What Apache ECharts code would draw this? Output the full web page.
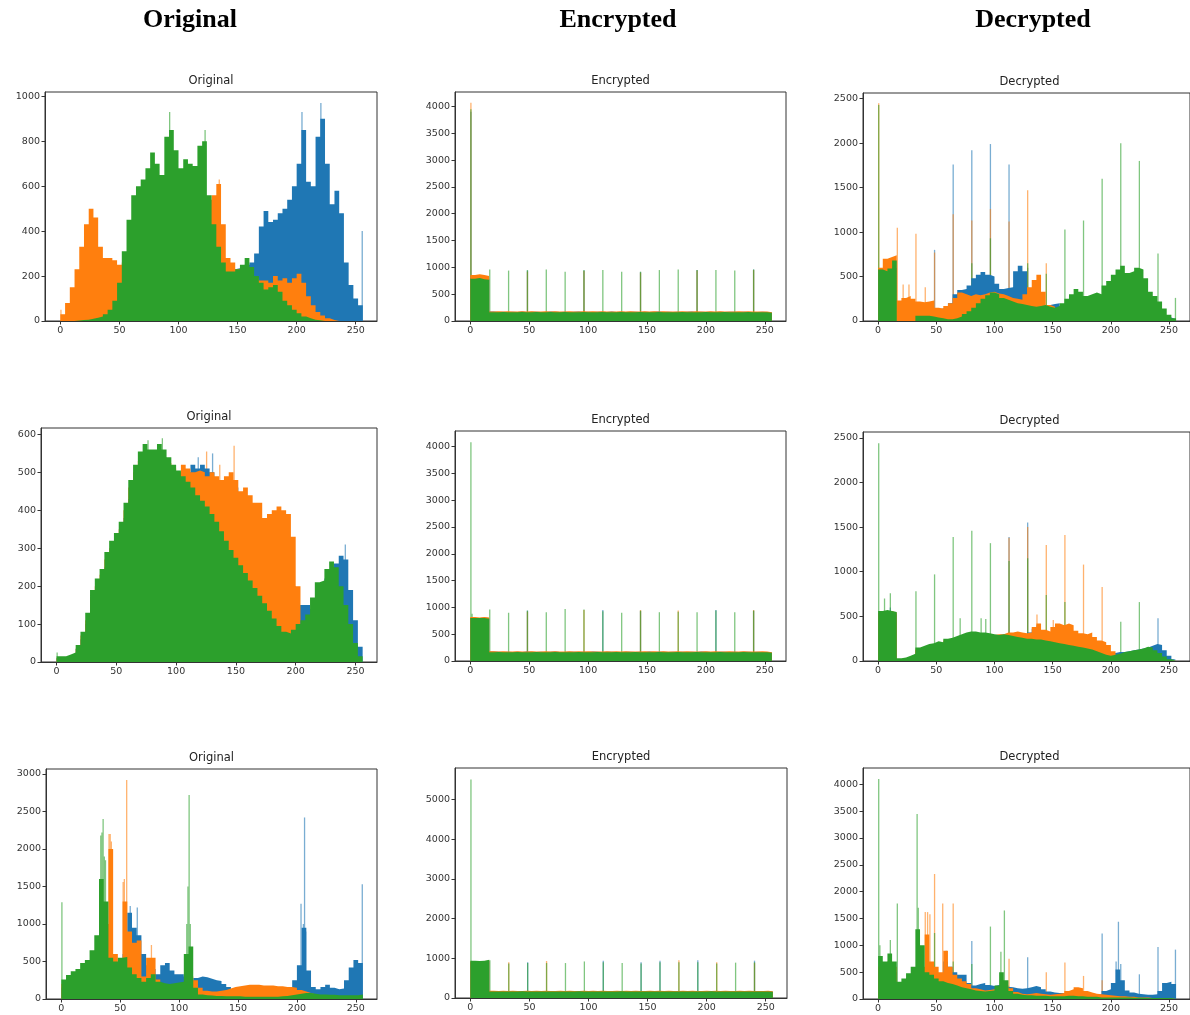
<!DOCTYPE html>
<html lang="en">
<head>
<meta charset="UTF-8">
<title>Histograms</title>
<script src="https://cdn.jsdelivr.net/npm/echarts@6/dist/echarts.min.js"></script>
<style>html,body{margin:0;padding:0;background:#fff}</style>
</head>
<body>
<div id="myChart" style="width:1190px;height:1015px;"></div>
<script>
// tick labels
var xTicks = [0, 50, 100, 150, 200, 250];
var yTicksO1 = [0, 200, 400, 600, 800, 1000];
var yTicksO2 = [0, 100, 200, 300, 400, 500, 600];
var yTicksO3 = [0, 500, 1000, 1500, 2000, 2500, 3000];
var yTicksE12 = [0, 500, 1000, 1500, 2000, 2500, 3000, 3500, 4000];
var yTicksE3 = [0, 1000, 2000, 3000, 4000, 5000];
var yTicksD12 = [0, 500, 1000, 1500, 2000, 2500];
var yTicksD3 = [0, 500, 1000, 1500, 2000, 2500, 3000, 3500, 4000];

// histogram bodies: 64 values each, 4 grey levels per value
// spikes: [bin, count]

// ---- row 1 ----
var o1B = [0,0,0,0,2,5,10,15,20,25,
  30,35,40,45,50,55,60,70,80,90,
  100,110,120,130,140,150,160,170,180,190,
  200,205,210,215,220,225,230,235,240,250,
  260,300,420,490,440,450,480,500,540,600,
  700,850,620,600,820,900,700,520,580,480,
  260,160,100,70];
var o1O = [30,80,150,230,330,430,500,460,330,280,
  280,270,250,260,300,320,340,360,380,400,
  420,440,450,460,470,480,490,500,510,520,
  530,540,560,610,430,280,260,230,220,210,
  200,190,180,180,170,200,180,190,170,190,
  210,170,110,70,40,25,12,5,0,0,
  0,0,0,0];
var o1G = [0,0,0,2,4,6,10,15,20,30,
  50,90,170,310,450,560,600,630,680,750,
  700,650,820,850,760,680,720,700,690,780,
  800,560,430,330,260,220,220,230,250,280,
  240,200,170,140,150,160,130,90,70,50,
  35,20,12,6,3,0,0,0,0,0,
  0,0,0,0];
var o1Bs = [[204,930],[220,970],[255,400]];
var o1Os = [[0,50],[134,630]];
var o1Gs = [[92,930],[122,850]];

var e1B = [800,810,800,790,
  175,170,172,168,174,170,176,169,171,173,
  170,168,175,172,170,174,169,171,176,170,
  172,168,173,171,170,175,169,172,170,174,
  171,168,173,170,172,176,169,171,170,173,
  168,172,175,170,171,169,174,170,172,168,
  171,173,170,172,169,170,168,172,170,160];
var e1O = [860,870,860,840,
  178,180,176,182,175,179,181,177,180,176,
  179,183,177,180,178,176,182,179,177,181,
  176,180,178,183,177,179,176,181,178,180,
  177,179,182,176,180,178,181,177,179,176,
  180,178,177,182,179,176,180,178,181,177,
  179,176,180,178,182,177,179,176,178,165];
var e1G = [790,800,780,770,
  165,163,166,162,165,164,167,163,165,166,
  164,162,166,165,163,166,164,162,165,167,
  163,165,164,166,162,165,163,166,164,165,
  162,166,164,163,165,167,163,165,164,162,
  166,164,163,165,162,166,164,165,163,166,
  164,162,165,163,166,164,162,165,163,155];
var e1Bs = [[0,3900],[48,940],[96,940],[144,910],[192,950],[240,960]];
var e1Os = [[0,4070],[48,920],[96,930],[144,900],[192,940],[240,950]];
var e1Gs = [[0,3950],[16,960],[32,940],[48,950],[64,960],[80,920],[96,950],[112,950],
  [128,920],[144,920],[160,950],[176,960],[192,950],[208,950],[224,940],[240,960]];

var d1B = [500,550,580,600,
  150,160,170,160,150,140,150,160,130,140,160,200,
  300,350,360,400,480,520,550,520,500,420,360,370,380,560,620,560,300,250,200,180,180,190,200,
  160,160,150,150,150,160,150,150,160,150,150,140,140,130,130,120,120,110,100,100,90,80,60,40,20];
var d1O = [600,700,720,740,
  230,260,280,250,220,210,220,230,150,140,170,200,260,320,300,280,300,290,300,320,
  330,310,300,280,260,250,240,300,380,460,520,330,180,160,120,100,
  90,80,80,70,70,60,60,60,50,50,50,40,40,40,30,30,30,20,20,20,10,10,10,0];
var d1G = [580,560,590,680,
  0,0,0,0,
  60,60,60,50,40,30,20,20,
  30,50,80,110,150,200,250,290,320,300,260,240,220,200,190,180,170,160,170,180,160,150,170,200,250,
  300,360,330,280,300,320,300,400,450,520,580,620,540,560,600,580,480,330,280,220,140,70,30];
var d1Bs = [[48,800],[64,1760],[80,1920],[96,1990],[112,1760],[128,600]];
var d1Os = [[0,2450],[16,1050],[21,410],[26,410],[32,980],[40,380],[48,770],[64,1200],
  [80,1130],[96,1260],[112,1120],[128,1470],[144,650]];
var d1Gs = [[0,2430],[80,650],[96,930],[128,650],[144,530],[160,1030],[176,1130],[192,1600],
  [208,2000],[224,1800],[240,760],[255,260]];

// ---- row 2 ----
var o2B = [10,12,15,20,35,60,100,150,180,210,250,280,300,330,380,430,470,500,520,510,510,520,510,500,490,480,480,
  500,520,510,520,510,500,470,460,470,480,460,430,420,
  400,380,360,340,330,320,300,280,250,200,
  150,150,150,140,150,180,220,240,260,280,270,190,110,40];
var o2O = [10,12,15,20,35,70,110,170,200,230,270,300,320,350,400,460,500,530,550,540,540,550,540,525,510,500,
  520,510,500,505,500,490,500,490,480,490,500,480,450,460,440,420,420,380,390,400,410,400,390,330,200,100,
  70,60,50,40,30,25,20,15,10,5,0,0];
var o2G = [15,15,20,25,45,80,130,190,220,245,
  290,320,340,370,420,480,520,555,575,560,
  560,575,560,540,520,505,490,475,460,440,
  425,410,390,370,345,320,295,275,255,235,
  215,195,175,155,135,115,95,80,75,85,
  100,110,125,170,210,215,245,265,250,200,
  150,100,50,15];
var o2Bs = [[118,540],[130,550],[241,310]];
var o2Os = [[125,555],[136,520],[148,570]];
var o2Gs = [[0,25],[76,585],[88,590]];

var e2B = [800,800,810,800,
  176,171,169,174,170,172,168,175,171,170,
  173,169,172,176,170,168,174,171,169,173,
  170,175,172,168,171,174,170,169,173,171,
  168,172,170,175,169,171,174,170,172,168,
  173,170,171,169,175,172,170,168,174,171,
  170,172,169,173,171,168,172,170,169,160];
var e2O = [820,810,820,810,
  180,177,182,176,179,181,178,176,183,179,
  177,180,176,182,178,179,181,177,180,176,
  182,178,179,177,181,176,180,178,183,177,
  179,176,181,178,180,177,182,179,176,180,
  178,181,177,179,176,182,178,180,177,179,
  181,176,178,180,177,179,176,181,178,165];
var e2G = [800,800,800,790,
  164,166,163,165,162,166,164,165,163,167,
  165,162,164,166,163,165,164,162,166,165,
  163,164,166,162,165,163,167,164,162,165,
  166,163,165,164,162,166,163,165,164,166,
  162,165,163,166,164,162,165,163,166,164,
  163,165,162,166,164,163,165,162,164,155];
var e2Bs = [[48,940],[112,950],[144,930],[208,950],[240,940]];
var e2Os = [[48,920],[96,950],[144,950],[176,940],[240,950]];
var e2Gs = [[0,4080],[1,880],[16,960],[32,900],[48,940],[64,910],[80,970],[96,960],[112,930],
  [128,900],[144,940],[160,910],[176,920],[192,910],[208,940],[224,910],[240,940]];

var d2B = [520,530,540,520,
  20,30,40,60,120,140,160,170,190,180,210,230,250,270,290,300,300,290,290,290,280,290,290,300,300,300,290,290,
  320,360,330,300,300,320,
  300,300,280,260,240,220,200,180,160,140,110,90,
  90,100,100,110,120,130,140,150,170,190,180,120,60,20];
var d2O = [540,560,560,540,
  20,30,50,70,130,150,170,180,200,190,230,240,260,280,300,310,310,300,300,300,290,300,
  300,320,320,330,320,310,320,380,420,350,330,380,420,400,420,400,340,310,300,320,270,230,210,180,110,40,
  30,30,30,30,25,25,20,20,15,10,5,0];
var d2G = [560,570,560,550,30,40,60,80,150,170,
  190,200,220,210,250,260,280,300,320,330,
  330,320,320,310,300,290,300,290,280,270,
  260,250,250,240,240,230,220,210,200,190,
  180,170,160,150,140,130,110,90,70,60,
  70,80,100,110,120,130,140,160,150,120,
  90,50,20,5];
var d2Bs = [[10,600],[112,1390],[128,1550],[136,400],[152,400],[240,480]];
var d2Os = [[112,1380],[128,1500],[136,520],[144,1300],[150,460],[160,1410],[176,1080],[192,830]];
var d2Gs = [[0,2440],[5,700],[10,760],[32,780],[48,970],[64,1390],[70,480],[80,1460],[88,480],[92,470],
  [96,1320],[112,1120],[128,1150],[144,740],[160,660],[208,440],[224,660]];

// ---- row 3 ----
var o3B = [150,200,250,280,300,350,400,450,500,550,500,450,450,
  600,1150,950,850,600,450,400,330,450,480,380,330,330,300,250,280,300,290,270,250,240,200,160,
  130,120,110,110,110,110,110,110,110,110,120,130,160,
  250,450,950,380,160,130,160,190,150,130,140,250,420,520,480];
var o3O = [200,250,300,320,350,400,450,500,600,1000,
  2000,600,450,1300,900,750,780,300,550,550,
  260,200,190,180,190,200,220,300,250,150,
  110,100,100,110,120,140,160,170,180,190,
  190,190,180,180,180,170,170,160,160,150,
  120,100,80,60,40,30,30,30,25,25,
  20,20,20,20];
var o3G = [260,320,370,400,480,520,650,850,1600,1300,
  550,500,550,560,420,330,280,230,280,330,
  230,210,200,210,220,230,600,700,150,60,
  50,45,40,40,35,35,35,35,30,30,
  30,30,30,30,30,30,35,40,50,60,
  70,80,80,70,60,60,55,55,50,50,
  50,50,50,60];
var o3Bs = [[58,1240],[64,1220],[203,1270],[205,1000],[206,2420],[207,900],[255,1530]];
var o3Os = [[40,2200],[41,2200],[42,2100],[52,1560],[53,1600],[55,2920],[76,720]];
var o3Gs = [[0,1290],[33,2180],[34,2220],[35,2400],[36,1900],[37,1850],[106,1000],[107,1500],[108,2720],[109,1000]];

var e3B = [900,920,910,930,
  174,170,176,171,169,173,170,175,172,168,
  171,174,170,169,176,172,170,173,168,171,
  175,170,172,169,174,171,168,173,170,176,
  172,169,171,174,170,168,173,171,175,170,
  169,172,170,174,171,168,173,170,172,169,
  174,170,171,168,173,170,172,169,171,160];
var e3O = [920,910,930,940,
  181,178,180,176,183,179,177,181,178,180,
  176,182,179,177,180,178,183,176,179,181,
  177,180,178,182,176,179,181,177,180,178,
  183,179,176,181,178,180,177,182,179,176,
  180,178,181,177,179,183,176,180,178,181,
  177,179,182,176,180,178,179,177,181,168];
var e3G = [940,930,940,960,
  165,163,166,164,162,165,167,163,164,166,
  162,165,164,163,166,165,162,164,167,163,
  165,164,162,166,163,165,164,167,162,165,
  163,166,164,162,165,163,166,164,165,162,
  164,166,163,165,162,164,167,163,165,164,
  162,165,163,166,164,162,165,163,164,156];
var e3Bs = [[48,900],[112,940],[144,900],[160,940],[192,950],[240,940]];
var e3Os = [[32,900],[64,930],[176,950],[208,900],[240,880]];
var e3Gs = [[0,5500],[16,950],[32,870],[48,880],[64,880],[80,880],[96,920],[112,900],[128,880],
  [144,870],[160,900],[176,900],[192,900],[208,870],[224,890],[240,900]];

var d3B = [500,500,600,500,200,250,300,350,400,450,500,450,400,350,
  700,600,500,450,450,300,250,280,300,260,240,260,250,230,220,200,190,200,220,240,220,180,140,
  120,110,110,100,100,100,110,100,90,80,90,
  150,180,300,550,350,160,120,100,90,80,80,90,150,300,320,280];
var d3O = [600,600,700,600,250,300,350,400,500,600,
  1200,700,600,500,900,600,450,380,330,280,
  200,180,160,170,180,200,250,250,200,130,
  100,90,100,110,100,90,80,90,100,110,
  150,180,220,200,150,120,100,90,80,70,
  60,50,50,40,40,30,30,30,20,20,
  20,10,10,10];
var d3G = [800,700,850,700,320,380,480,600,1300,1000,
  500,450,380,330,300,280,250,220,200,180,
  160,150,140,150,160,250,500,350,150,100,
  80,70,70,60,60,60,50,50,50,50,
  60,60,50,50,40,40,40,30,30,30,
  30,30,30,30,25,25,25,20,20,20,
  20,20,20,20];
var d3Bs = [[58,900],[80,1080],[128,780],[192,1220],[204,700],[206,1440],[208,650],[224,460],[240,970],[255,920]];
var d3Os = [[40,1620],[42,1620],[44,1580],[48,2330],[55,1780],[64,1780],[112,750],[144,500],[160,680],[176,430],[192,350]];
var d3Gs = [[0,4100],[1,1000],[10,1100],[16,1780],[33,3450],[34,1700],[48,1230],[64,700],[80,650],
  [96,1350],[105,880],[108,1650]];

var panels = [
  {title:'Original',  B:o1B, O:o1O, G:o1G, Bs:o1Bs, Os:o1Os, Gs:o1Gs, yTicks:yTicksO1, ymax:1019, rect:[45,92,332,229]},
  {title:'Encrypted', B:e1B, O:e1O, G:e1G, Bs:e1Bs, Os:e1Os, Gs:e1Gs, yTicks:yTicksE12, ymax:4270, rect:[455,92,331,229]},
  {title:'Decrypted', B:d1B, O:d1O, G:d1G, Bs:d1Bs, Os:d1Os, Gs:d1Gs, yTicks:yTicksD12, ymax:2564, rect:[863,93,333,228]},
  {title:'Original',  B:o2B, O:o2O, G:o2G, Bs:o2Bs, Os:o2Os, Gs:o2Gs, yTicks:yTicksO2, ymax:617, rect:[41,428,336,234]},
  {title:'Encrypted', B:e2B, O:e2O, G:e2G, Bs:e2Bs, Os:e2Os, Gs:e2Gs, yTicks:yTicksE12, ymax:4290, rect:[455,431,331,230]},
  {title:'Decrypted', B:d2B, O:d2O, G:d2G, Bs:d2Bs, Os:d2Os, Gs:d2Gs, yTicks:yTicksD12, ymax:2565, rect:[863,432,333,229]},
  {title:'Original',  B:o3B, O:o3O, G:o3G, Bs:o3Bs, Os:o3Os, Gs:o3Gs, yTicks:yTicksO3, ymax:3066, rect:[46,769,331,230]},
  {title:'Encrypted', B:e3B, O:e3O, G:e3G, Bs:e3Bs, Os:e3Os, Gs:e3Gs, yTicks:yTicksE3, ymax:5790, rect:[455,768,332,230]},
  {title:'Decrypted', B:d3B, O:d3O, G:d3G, Bs:d3Bs, Os:d3Os, Gs:d3Gs, yTicks:yTicksD3, ymax:4305, rect:[863,768,333,231]}
];
var headers = [['Original', 190], ['Encrypted', 618], ['Decrypted', 1033]];
var colors = {B:'#1f77b4', O:'#ff7f0e', G:'#2ca02c'};

// body values as step points (each value spans 256/len bins)
function steps(arr) {
    var w = 256 / arr.length;
    var pts = arr.map(function (v, i) { return [i * w, v]; });
    pts.push([256, arr[arr.length - 1]]);
    return pts;
}

var myChart = echarts.init(document.getElementById('myChart'));
var grid = [], xAxis = [], yAxis = [], series = [], graphic = [];

headers.forEach(function (h) {
    graphic.push({type:'text', x:h[1], y:20, style:{text:h[0], align:'center', verticalAlign:'middle',
        font:'bold 26px "Liberation Serif"', fill:'#000'}});
});

function plain(v) { return String(v); }

panels.forEach(function (p, i) {
    var r = p.rect;
    grid.push({left:r[0], top:r[1], width:r[2], height:r[3], show:true, borderColor:'#333', borderWidth:1});
    xAxis.push({
        gridIndex:i, type:'value', min:-13, max:268,
        axisLine:{show:true, onZero:false, lineStyle:{color:'#333'}},
        axisTick:{show:true, length:3.5, customValues:xTicks, lineStyle:{color:'#333'}},
        axisLabel:{customValues:xTicks, formatter:plain, fontSize:9.5, fontFamily:'DejaVu Sans', color:'#333', margin:5},
        splitLine:{show:false}
    });
    yAxis.push({
        gridIndex:i, type:'value', min:0, max:p.ymax,
        axisLine:{show:true, onZero:false, lineStyle:{color:'#333'}},
        axisTick:{show:true, length:3.5, customValues:p.yTicks, lineStyle:{color:'#333'}},
        axisLabel:{customValues:p.yTicks, formatter:plain, fontSize:9.5, fontFamily:'DejaVu Sans', color:'#333', margin:5},
        splitLine:{show:false}
    });
    graphic.push({type:'text', x:r[0] + r[2] / 2, y:r[1] - 11, style:{text:p.title, align:'center',
        verticalAlign:'middle', font:'11.5px "DejaVu Sans"', fill:'#222'}});

    ['B', 'O', 'G'].forEach(function (k) {
        series.push({
            type:'line', xAxisIndex:i, yAxisIndex:i, data:steps(p[k]), step:'end',
            symbol:'none', lineStyle:{width:0}, areaStyle:{color:colors[k], opacity:1},
            silent:true, animation:false
        });
        series.push({
            type:'bar', xAxisIndex:i, yAxisIndex:i,
            data:p[k + 's'].map(function (s) { return [s[0] + 0.5, s[1]]; }),
            barWidth:1.3, barGap:'-100%', itemStyle:{color:colors[k], opacity:0.6},
            silent:true, animation:false
        });
    });
});

myChart.setOption({
    animation:false,
    grid:grid, xAxis:xAxis, yAxis:yAxis, series:series, graphic:graphic
});
</script>
</body>
</html>
